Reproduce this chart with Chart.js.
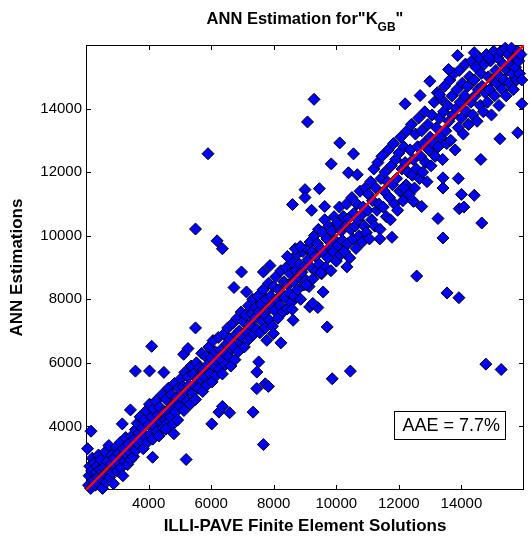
<!DOCTYPE html>
<html>
<head>
<meta charset="utf-8">
<script src="https://cdn.jsdelivr.net/npm/chart.js@4/dist/chart.umd.min.js"></script>
<style>
  html, body { margin: 0; padding: 0; background: #fff; }
  #chart { display: block; }
</style>
</head>
<body>
<canvas id="chart" width="531" height="544"></canvas>
<script>
// Axis limits and tick labels
const axisRange = [2000, 16000];
const tickValues = [4000, 6000, 8000, 10000, 12000, 14000];
const fitLine = [2000, 16000];

// [ILLI-PAVE value, ANN estimation] - main band along the line of equality
const bandPoints = [
  [2080,2150],[2100,2450],[2120,2750],[2150,2050],[2180,2600],[2200,3000],[2230,2300],[2260,2850],
  [2300,2150],[2320,2550],[2350,2750],[2380,2400],[2400,3100],[2420,2200],[2450,2650],[2480,2950],
  [2500,2350],[2530,2050],[2560,2700],[2600,2500],[2620,3200],[2650,2250],[2680,2900],[2700,2600],
  [2730,3400],[2760,2400],[2800,2800],[2830,3100],[2850,2550],[2880,2200],[2900,3000],[2940,2750],
  [2970,3350],[3000,2600],[3030,3150],[3060,2850],[3100,3500],[3120,2700],[3150,3050],[3180,2450],
  [3200,3300],[3240,2900],[3270,3650],[3300,3100],[3330,2800],[3360,3450],[3400,3200],[3430,2950],
  [3460,3700],[3500,3350],[3520,3050],
  [3550,3600],[3580,3900],[3600,3250],[3640,4100],[3670,3450],[3700,3800],[3730,4300],[3760,3550],
  [3800,3950],[3830,3300],[3860,4200],[3900,3700],[3930,4500],[3960,3500],[4000,4050],[4030,4700],
  [4060,3750],[4100,4300],[4130,3600],[4160,4550],[4200,4000],[4230,4800],[4260,3850],[4300,4350],
  [4330,3700],[4360,4600],[4400,4150],[4430,5000],[4460,3950],[4500,4450],[4530,4200],[4560,4850],
  [4600,4100],[4630,5200],[4660,4550],[4700,4300],[4730,5000],[4760,4050],[4800,4700],[4830,5350],
  [4860,4450],[4900,4900],[4930,4200],[4960,5200],[5000,4650],
  [5030,5500],[5060,4900],[5100,5250],[5130,4500],[5160,5700],[5200,5100],[5230,4800],[5260,5550],
  [5300,5300],[5330,4700],[5360,5900],[5400,5050],[5430,5650],[5460,5300],[5500,4850],[5530,6000],
  [5560,5500],[5600,5200],[5630,5850],[5660,5500],[5700,6300],[5730,5100],[5760,5800],[5800,5550],
  [5830,6200],[5860,5300],[5900,5950],[5930,6500],[5960,5650],[6000,6150],[6030,5400],[6060,6700],
  [6100,5900],[6130,6350],[6160,5600],[6200,6050],[6230,6800],[6260,5800],[6300,6400],[6330,6100],
  [6360,5650],[6400,6900],[6430,6300],[6460,5950],[6500,6600],[6530,7100],[6560,6200],[6600,6750],
  [6630,5900],[6660,6450],[6700,7250],[6730,6500],[6760,6100],[6800,6900],[6830,7400],[6860,6350],
  [6900,7000],[6930,6650],[6960,7600],[7000,6800],
  [7030,7300],[7060,6500],[7100,7500],[7130,7000],[7160,6700],[7200,7800],[7230,7200],[7260,6800],
  [7300,7550],[7330,8000],[7360,6900],[7400,7400],[7430,7750],[7460,7050],[7500,8100],[7530,7600],
  [7560,6950],[7600,7850],[7630,7300],[7660,8300],[7700,7550],[7730,7100],[7760,8000],[7800,7700],
  [7830,8500],[7860,7350],[7900,8100],[7930,7800],[7960,7150],[8000,8400],[8030,7650],[8060,8700],
  [8100,8000],[8130,7400],[8160,8300],[8200,7800],[8230,8900],[8260,8150],[8300,7600],[8330,8550],
  [8360,8050],[8400,9000],[8430,7700],[8460,8450],[8500,8200],[8530,8800],[8560,7900],[8600,9150],
  [8630,8550],[8660,8100],[8700,8900],[8730,9400],[8760,8300],[8800,8700],[8830,9100],[8860,8000],
  [8900,8850],[8930,9500],[8960,8450],[9000,9050],
  [9030,8600],[9060,9600],[9100,9250],[9130,8400],[9160,9800],[9200,9000],[9230,9500],[9260,8650],
  [9300,10000],[9330,9350],[9360,8900],[9400,9750],[9430,10200],[9460,9100],[9500,9600],[9530,8800],
  [9560,10100],[9600,9450],[9630,10500],[9660,9000],[9700,9900],[9730,9300],[9760,10300],[9800,9650],
  [9830,8900],[9860,10150],[9900,9500],[9930,10600],[9960,9850],[10000,9200],[10030,10400],[10060,9700],
  [10100,10900],[10130,9400],[10160,10150],[10200,9850],[10230,10600],[10260,9500],[10300,10300],[10330,11000],
  [10360,9750],[10400,10550],[10430,9300],[10460,10200],[10500,11200],[10530,9900],[10560,10700],[10600,10300],
  [10630,9600],[10660,11000],[10700,10500],[10730,10000],[10760,11400],[10800,10650],[10830,9800],[10860,10900],
  [10900,10300],[10930,11500],[10960,10100],[11000,10800],
  [11030,11300],[11060,9900],[11100,11700],[11130,10500],[11160,11100],[11200,12100],[11230,10300],[11260,11500],
  [11300,10800],[11330,12300],[11360,11000],[11400,10200],[11430,11800],[11460,12500],[11500,10900],[11530,11400],
  [11560,12000],[11600,10600],[11630,11700],[11660,12700],[11700,11200],[11730,10500],[11760,12200],[11800,11600],
  [11830,12900],[11860,11000],[11900,12400],[11930,11800],[11960,10800],[12000,12600],[12030,11400],[12060,13100],
  [12100,12100],[12130,11100],[12160,12800],[12200,12300],[12230,11600],[12260,13300],[12300,12000],[12330,11300],
  [12360,12700],[12400,13500],[12430,11900],[12460,12400],[12500,11500],[12530,13200],[12560,12100],[12600,12800],
  [12630,13700],[12660,11800],[12700,12500],[12730,13300],[12760,12000],[12800,12900],[12830,13900],[12860,12300],
  [12900,11700],[12930,13500],[12960,12700],[13000,13100],
  [13030,12200],[13060,13800],[13100,12900],[13130,14200],[13160,12500],[13200,13400],[13230,14500],[13260,12800],
  [13300,13700],[13330,13100],[13360,14300],[13400,12400],[13430,13900],[13460,14700],[13500,13300],[13530,12900],
  [13560,14100],[13600,13600],[13630,14900],[13660,13000],[13700,14400],[13730,13800],[13760,15100],[13800,12700],
  [13830,14000],[13860,14600],[13900,13400],[13930,15200],[13960,14200],[14000,13700],[14030,14800],[14060,13200],
  [14100,14400],[14130,15400],[14160,13900],[14200,14700],[14230,13500],[14260,15000],[14300,14200],[14330,15500],
  [14360,13800],[14400,14900],[14430,14400],[14460,15300],[14500,13600],[14530,14600],[14560,15600],[14600,14100],
  [14630,15100],[14660,14700],[14700,13900],[14730,15400],[14760,14500],[14800,15700],[14830,14200],[14860,15000],
  [14900,14600],[14930,15500],[14960,13800],[15000,14900],[15030,15800],[15060,14400],[15100,15200],[15130,14800],
  [15160,15600],[15200,14100],[15230,15000],[15260,15800],[15300,14600],[15330,15400],[15360,14900],[15400,15900],
  [15430,14400],[15460,15200],[15500,15700],[15530,14800],[15560,15400],[15600,15900],[15630,15100],[15660,14600],
  [15700,15600],[15730,15300],[15760,14900],[15800,15800],[15830,15500],[15860,15100],[15900,15700],[15930,14900]
];

// scattered points away from the band
const outlierPoints = [
  [5900,12580],[5500,10210],[6190,9840],[6360,9590],[8600,10980],[9290,14290],[9080,13580],[9000,11450],
  [9000,11200],[8440,9350],[8690,9590],[8850,9660],[7880,9060],[10110,12920],[10550,12575],[9840,12260],
  [10390,11980],[10670,11920],[9460,11480],[9210,10800],[9630,10920],[11390,9900],[11780,9950],[12200,14150],
  [12680,14410],[12990,14860],[13300,14440],[13590,15230],[13880,15670],[14410,15760],[14880,15600],[13250,10540],
  [13410,9930],[13930,10850],[14410,11270],[14650,10400],[14620,12400],[15230,13050],[15800,13240],[15930,14150],
  [13900,11800],[14000,11300],[14080,10900],[13410,11500],[13410,11820],[12470,11080],[12730,10920],[12150,11510],
  [3580,5740],[4030,5745],[4490,5700],[4100,6520],[2160,3850],[2050,3300],[5200,2960],[7670,3430],
  [6020,4080],[6250,4450],[6360,4630],[6590,4430],[7340,4450],[7460,5190],[7730,5340],[7830,5260],
  [7460,5710],[7520,6030],[5500,7100],[5120,6270],[5260,6450],[6730,8370],[6970,8860],[7130,8230],
  [7670,8860],[8230,6630],[7990,6920],[7780,6710],[8620,7340],[8590,7680],[4810,3770],[4550,3910],
  [4130,3030],[3420,4520],[3160,4080],[12570,8730],[13540,8200],[13920,8050],[14780,5960],[15270,5790],
  [9710,7130],[9870,5500],[10450,5740],[9150,7760],[9410,7740],[9250,7870],[9580,8230],[9050,8450],
  [9500,8830],[10340,9020]
];

const chartTitle = 'ANN Estimation for"K';
const chartTitleSub = 'GB';
const xTitle = 'ILLI-PAVE Finite Element Solutions';
const yTitle = 'ANN Estimations';
const aaeText = 'AAE = 7.7%';

const FONT = '"Liberation Sans", Arial, Helvetica, sans-serif';

const scatterData = bandPoints.concat(outlierPoints).map(p => ({ x: p[0], y: p[1] }));
const lineData = fitLine.map(v => ({ x: v, y: v }));

// frame, inward ticks, titles and the AAE box
const framePlugin = {
  id: 'frame',
  beforeDatasetsDraw(chart) {
    const { ctx, chartArea: a, scales: { x, y } } = chart;
    ctx.save();
    ctx.strokeStyle = '#000';
    ctx.lineWidth = 1;
    ctx.strokeRect(a.left + 0.5, a.top + 0.5, a.right - a.left - 1, a.bottom - a.top - 1);
    ctx.beginPath();
    tickValues.forEach(v => {
      const px = Math.round(x.getPixelForValue(v)) + 0.5;
      const py = Math.round(y.getPixelForValue(v)) + 0.5;
      ctx.moveTo(px, a.bottom); ctx.lineTo(px, a.bottom - 5);
      ctx.moveTo(px, a.top); ctx.lineTo(px, a.top + 5);
      ctx.moveTo(a.left, py); ctx.lineTo(a.left + 5, py);
      ctx.moveTo(a.right, py); ctx.lineTo(a.right - 5, py);
    });
    ctx.stroke();
    ctx.restore();
  },
  afterDraw(chart) {
    const { ctx, chartArea: a, scales: { x, y } } = chart;
    const cx = (a.left + a.right) / 2;
    ctx.save();
    ctx.fillStyle = '#000';
    ctx.textBaseline = 'alphabetic';

    // title with subscript
    const mainFont = 'bold 16.5px ' + FONT;
    const subFont = 'bold 12px ' + FONT;
    ctx.font = mainFont;
    const w1 = ctx.measureText(chartTitle).width;
    const w3 = ctx.measureText('"').width;
    ctx.font = subFont;
    const w2 = ctx.measureText(chartTitleSub).width;
    let tx = cx - (w1 + w2 + w3) / 2;
    ctx.textAlign = 'left';
    ctx.font = mainFont;
    ctx.fillText(chartTitle, tx, 24);
    ctx.font = subFont;
    ctx.fillText(chartTitleSub, tx + w1, 31);
    ctx.font = mainFont;
    ctx.fillText('"', tx + w1 + w2, 24);

    // axis titles
    ctx.font = 'bold 17px ' + FONT;
    ctx.textAlign = 'center';
    ctx.textBaseline = 'middle';
    ctx.fillText(xTitle, cx, 526);
    ctx.save();
    ctx.translate(17, (a.top + a.bottom) / 2);
    ctx.rotate(-Math.PI / 2);
    ctx.fillText(yTitle, 0, 0);
    ctx.restore();

    // AAE box
    const bx1 = Math.round(x.getPixelForValue(11840)) + 0.5;
    const bx2 = Math.round(x.getPixelForValue(15380)) + 0.5;
    const by1 = Math.round(y.getPixelForValue(4480)) + 0.5;
    const by2 = Math.round(y.getPixelForValue(3620)) + 0.5;
    ctx.fillStyle = '#fff';
    ctx.fillRect(bx1, by1, bx2 - bx1, by2 - by1);
    ctx.strokeStyle = '#000';
    ctx.lineWidth = 1;
    ctx.strokeRect(bx1, by1, bx2 - bx1, by2 - by1);
    ctx.fillStyle = '#000';
    ctx.font = '18px ' + FONT;
    ctx.textAlign = 'left';
    ctx.fillText(aaeText, bx1 + 8, (by1 + by2) / 2 + 1);
    ctx.restore();
  }
};

new Chart(document.getElementById('chart'), {
  type: 'scatter',
  data: {
    datasets: [
      {
        label: 'Line of equality',
        data: lineData,
        showLine: true,
        borderColor: '#ff0000',
        borderWidth: 2.5,
        pointRadius: 0,
        order: 0
      },
      {
        label: 'ANN Estimation',
        data: scatterData,
        pointStyle: 'rectRot',
        pointRadius: 6,
        pointBackgroundColor: '#0000ff',
        pointBorderColor: '#000',
        pointBorderWidth: 1,
        clip: false,
        order: 1
      }
    ]
  },
  options: {
    responsive: false,
    animation: false,
    devicePixelRatio: 1,
    layout: { padding: { top: 45, right: 1, left: 0, bottom: 0 } },
    plugins: {
      legend: { display: false },
      tooltip: { enabled: false }
    },
    scales: {
      x: {
        type: 'linear',
        min: axisRange[0],
        max: axisRange[1],
        afterBuildTicks: s => { s.ticks = tickValues.map(v => ({ value: v })); },
        afterFit: s => { s.height = 54; },
        grid: { display: false, drawTicks: false, tickLength: 0 },
        border: { display: false },
        ticks: {
          color: '#000',
          padding: 5,
          maxRotation: 0,
          font: { family: FONT, size: 15 },
          callback: v => String(v)
        }
      },
      y: {
        type: 'linear',
        min: axisRange[0],
        max: axisRange[1],
        afterBuildTicks: s => { s.ticks = tickValues.map(v => ({ value: v })); },
        afterFit: s => { s.width = 86; },
        grid: { display: false, drawTicks: false, tickLength: 0 },
        border: { display: false },
        ticks: {
          color: '#000',
          padding: 4,
          font: { family: FONT, size: 15 },
          callback: v => String(v)
        }
      }
    }
  },
  plugins: [framePlugin]
});
</script>
</body>
</html>
